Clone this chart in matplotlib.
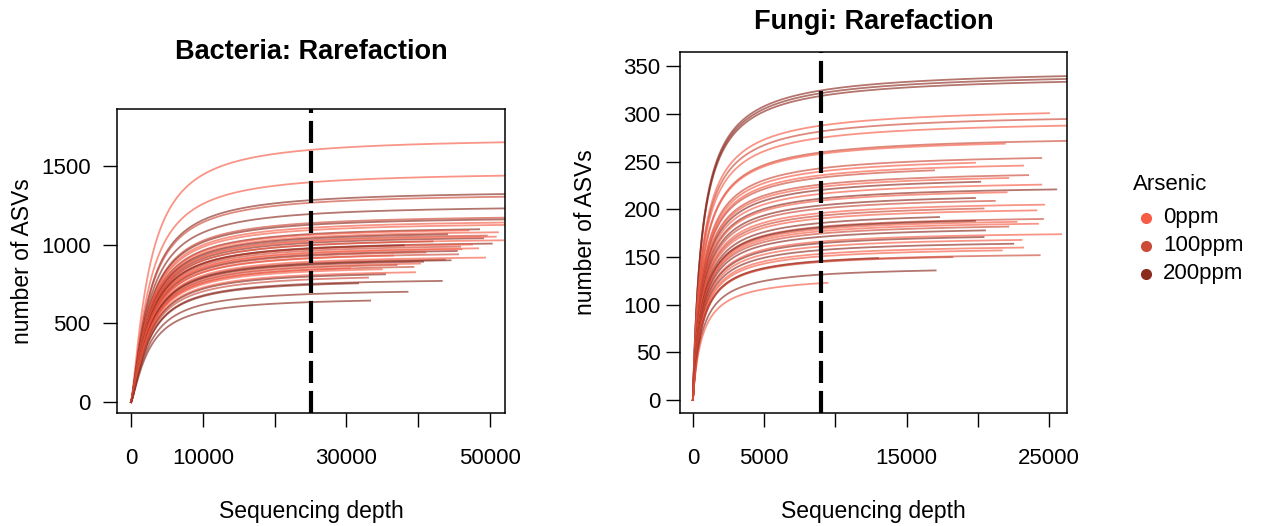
import numpy as np
import matplotlib
matplotlib.use('Agg')
import matplotlib.pyplot as plt
from matplotlib.lines import Line2D

plt.rcParams['font.family'] = ['Liberation Sans', 'DejaVu Sans']

# Arsenic groups
groups = ['0ppm', '100ppm', '200ppm']
group_colors = ['#F75C45', '#CC4A38', '#8B2B20']

# Bacteria: per-sample max depth, final richness (ASVs), arsenic group index
bac_depth = [52500, 52500, 52500, 52500, 52500, 52500, 52500, 52500, 52500,
             48470, 51100, 49540, 49030, 51800, 50240, 45820, 48330, 45360,
             45550, 49300, 43730, 40670, 40250, 39320, 34910, 39550, 35370,
             43270, 31620, 33290, 47000, 44000, 50800, 42000, 47500, 38000,
             46000, 41000, 36500, 44500, 37000, 30500, 33000, 38500]
bac_rich = [1650, 1438, 1321, 1304, 1230, 1171, 1160, 1140, 1125,
            1097, 1078, 1057, 1040, 1027, 1006, 987, 976, 959,
            938, 917, 904, 891, 879, 858, 843, 824, 811,
            769, 754, 644, 1090, 1065, 1050, 1020, 1000, 995,
            970, 950, 930, 900, 870, 850, 790, 700]
bac_group = [0, 0, 2, 1, 2, 1, 2, 0, 0,
             2, 0, 1, 2, 0, 2, 1, 0, 2,
             1, 0, 1, 2, 0, 1, 0, 0, 2,
             2, 2, 2, 0, 2, 0, 1, 0, 2,
             0, 1, 0, 2, 1, 0, 1, 2]

# Fungi
fun_depth = [26500, 26500, 26500, 24980, 26500, 26500, 26500, 21880, 24440,
             19790, 23170, 16920, 23520, 22130, 20160, 24440, 25490, 22010,
             19790, 21180, 24650, 20390, 24100, 17270, 24560, 22710, 19790,
             24210, 22130, 20490, 25830, 20390, 23050, 22480, 23170, 21670,
             24330, 12990, 18200, 17030, 9440]
fun_rich = [340, 337, 334, 301, 295, 288, 272, 269, 254,
            249, 246, 241, 236, 233, 229, 226, 221, 218,
            212, 209, 205, 201, 199, 192, 190, 187, 188,
            185, 182, 178, 174, 171, 168, 164, 160, 157,
            152, 149, 150, 136, 123]
fun_group = [2, 2, 2, 0, 1, 0, 1, 0, 1,
             0, 0, 1, 1, 0, 2, 0, 2, 0,
             2, 1, 0, 1, 0, 2, 1, 0, 2,
             0, 1, 2, 0, 2, 0, 2, 0, 0,
             1, 2, 1, 2, 0]


def rarecurve(n, b, h):
    return n**h/(b**h + n**h)


def panel(ax, depth, rich, grp, pars, cut, xt, xtl, yt, xlim, ylim, title, title_y, ypad, fig):
    for d, s, g in zip(depth, rich, grp):
        n = np.concatenate([np.linspace(0, 3000, 300), np.linspace(3000, d, 300)[1:]])
        y = s*rarecurve(n, *pars)/rarecurve(d, *pars)
        ax.plot(n, y, color=group_colors[g], lw=1.3, alpha=0.65)
    ax.axvline(cut, color='k', lw=3, dashes=(5.3, 1.9))
    ax.set_xlim(xlim)
    ax.set_ylim(ylim)
    ax.set_xticks(xt)
    ax.set_xticklabels(xtl)
    ax.set_yticks(yt)
    ax.tick_params(axis='both', direction='out', length=10, width=1, labelsize=16)
    ax.tick_params(axis='x', pad=15)
    ax.tick_params(axis='y', pad=ypad)
    for sp in ax.spines.values():
        sp.set_linewidth(1.1)
    pos = ax.get_position()
    fig.text((pos.x0+pos.x1)/2, title_y, title, ha='center', va='center',
             fontsize=19.5, fontweight='bold')
    fig.text((pos.x0+pos.x1)/2, 0.027, 'Sequencing depth', ha='center', va='center', fontsize=16.5)
    fig.text(pos.x0-0.075, (pos.y0+pos.y1)/2, 'number of ASVs', ha='center', va='center',
             rotation=90, fontsize=16.5)


fig = plt.figure(figsize=(12.64, 5.26), dpi=100)
ax1 = fig.add_axes([0.0926, 0.2148, 0.307, 0.578])
ax2 = fig.add_axes([0.538, 0.2148, 0.3062, 0.686])

panel(ax1, bac_depth, bac_rich, bac_group, (2500, 1.3), 25000,
      [0, 10000, 20000, 30000, 40000, 50000], ['0', '10000', '', '30000', '', '50000'],
      [0, 500, 1000, 1500], (-1950, 52090), (-70, 1861), 'Bacteria: Rarefaction', 0.901, 9, fig)
panel(ax2, fun_depth, fun_rich, fun_group, (650, 1.0), 9000,
      [0, 5000, 10000, 15000, 20000, 25000], ['0', '5000', '', '15000', '', '25000'],
      list(range(0, 351, 50)), (-900, 26250), (-13.6, 365), 'Fungi: Rarefaction', 0.958, 4, fig)

# legend drawn in figure coordinates
fig.text(1133/1264, 1-184/526, 'Arsenic', ha='left', va='center', fontsize=16)
for i, (lab, c) in enumerate(zip(groups, group_colors)):
    yy = 1-(218+28*i)/526
    fig.add_artist(Line2D([1146/1264], [yy], marker='o', ls='', color=c, markersize=7,
                          transform=fig.transFigure))
    fig.text(1163/1264, yy, lab, ha='left', va='center', fontsize=16)

fig.savefig('out.png', dpi=100)
